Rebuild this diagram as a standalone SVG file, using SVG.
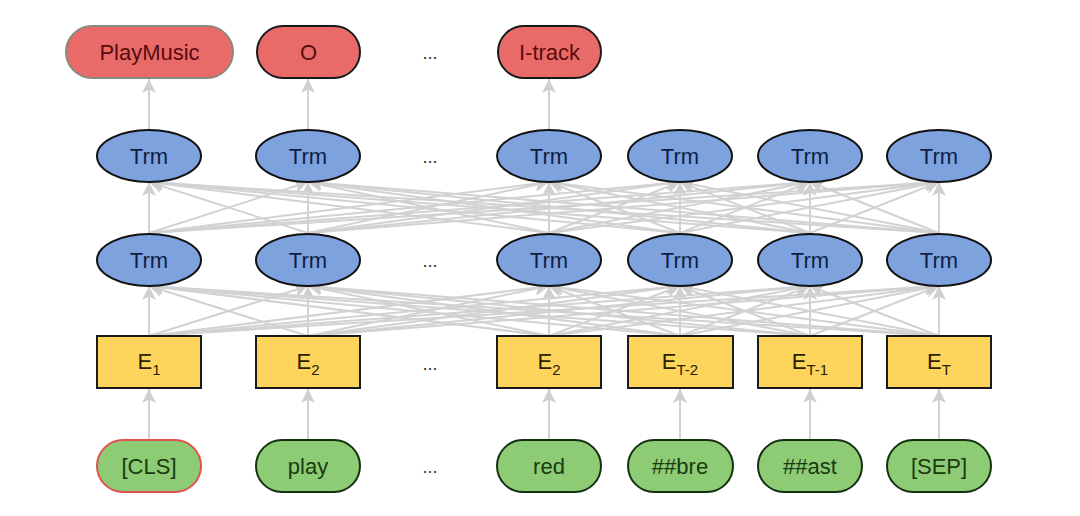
<svg xmlns="http://www.w3.org/2000/svg" width="1080" height="516" viewBox="0 0 1080 516">
<defs>
<marker id="ah" markerUnits="userSpaceOnUse" markerWidth="16" markerHeight="14" refX="14" refY="7" orient="auto">
<path d="M0,0 L14,7 L0,14 L3.5,7 z" fill="#cfcfcf"/>
</marker>
<style>
.c line{stroke:#d2d2d2;stroke-width:2;marker-end:url(#ah);fill:none}
text{font-family:"Liberation Sans",Arial,sans-serif;font-size:22px;text-anchor:middle}
.out{fill:#e86b6a;stroke:#1a1a1a;stroke-width:2}
.outt{fill:#5a0b0b}
.trm{fill:#7ea2de;stroke:#111;stroke-width:2}
.trmt{fill:#0d1f45}
.emb{fill:#fdd45c;stroke:#1a1a1a;stroke-width:2}
.embt{fill:#2b2100}
.tok{fill:#8dcb74;stroke:#13300f;stroke-width:2}
.tokt{fill:#1a3a10}
.dots{fill:#333;font-size:18px}
</style>
</defs>
<rect width="1080" height="516" fill="#fff"/>
<g class="c" id="connectors">
<line x1="149" y1="440" x2="149" y2="389"/>
<line x1="308" y1="440" x2="308" y2="389"/>
<line x1="549" y1="440" x2="549" y2="389"/>
<line x1="680" y1="440" x2="680" y2="389"/>
<line x1="810" y1="440" x2="810" y2="389"/>
<line x1="939" y1="440" x2="939" y2="389"/>
<line x1="149" y1="336" x2="149" y2="286"/><line x1="149" y1="336" x2="308" y2="286"/><line x1="149" y1="336" x2="549" y2="286"/><line x1="149" y1="336" x2="680" y2="286"/><line x1="149" y1="336" x2="810" y2="286"/><line x1="149" y1="336" x2="939" y2="286"/>
<line x1="308" y1="336" x2="149" y2="286"/><line x1="308" y1="336" x2="308" y2="286"/><line x1="308" y1="336" x2="549" y2="286"/><line x1="308" y1="336" x2="680" y2="286"/><line x1="308" y1="336" x2="810" y2="286"/><line x1="308" y1="336" x2="939" y2="286"/>
<line x1="549" y1="336" x2="149" y2="286"/><line x1="549" y1="336" x2="308" y2="286"/><line x1="549" y1="336" x2="549" y2="286"/><line x1="549" y1="336" x2="680" y2="286"/><line x1="549" y1="336" x2="810" y2="286"/><line x1="549" y1="336" x2="939" y2="286"/>
<line x1="680" y1="336" x2="149" y2="286"/><line x1="680" y1="336" x2="308" y2="286"/><line x1="680" y1="336" x2="549" y2="286"/><line x1="680" y1="336" x2="680" y2="286"/><line x1="680" y1="336" x2="810" y2="286"/><line x1="680" y1="336" x2="939" y2="286"/>
<line x1="810" y1="336" x2="149" y2="286"/><line x1="810" y1="336" x2="308" y2="286"/><line x1="810" y1="336" x2="549" y2="286"/><line x1="810" y1="336" x2="680" y2="286"/><line x1="810" y1="336" x2="810" y2="286"/><line x1="810" y1="336" x2="939" y2="286"/>
<line x1="939" y1="336" x2="149" y2="286"/><line x1="939" y1="336" x2="308" y2="286"/><line x1="939" y1="336" x2="549" y2="286"/><line x1="939" y1="336" x2="680" y2="286"/><line x1="939" y1="336" x2="810" y2="286"/><line x1="939" y1="336" x2="939" y2="286"/>
<line x1="149" y1="233" x2="149" y2="182"/><line x1="149" y1="233" x2="308" y2="182"/><line x1="149" y1="233" x2="549" y2="182"/><line x1="149" y1="233" x2="680" y2="182"/><line x1="149" y1="233" x2="810" y2="182"/><line x1="149" y1="233" x2="939" y2="182"/>
<line x1="308" y1="233" x2="149" y2="182"/><line x1="308" y1="233" x2="308" y2="182"/><line x1="308" y1="233" x2="549" y2="182"/><line x1="308" y1="233" x2="680" y2="182"/><line x1="308" y1="233" x2="810" y2="182"/><line x1="308" y1="233" x2="939" y2="182"/>
<line x1="549" y1="233" x2="149" y2="182"/><line x1="549" y1="233" x2="308" y2="182"/><line x1="549" y1="233" x2="549" y2="182"/><line x1="549" y1="233" x2="680" y2="182"/><line x1="549" y1="233" x2="810" y2="182"/><line x1="549" y1="233" x2="939" y2="182"/>
<line x1="680" y1="233" x2="149" y2="182"/><line x1="680" y1="233" x2="308" y2="182"/><line x1="680" y1="233" x2="549" y2="182"/><line x1="680" y1="233" x2="680" y2="182"/><line x1="680" y1="233" x2="810" y2="182"/><line x1="680" y1="233" x2="939" y2="182"/>
<line x1="810" y1="233" x2="149" y2="182"/><line x1="810" y1="233" x2="308" y2="182"/><line x1="810" y1="233" x2="549" y2="182"/><line x1="810" y1="233" x2="680" y2="182"/><line x1="810" y1="233" x2="810" y2="182"/><line x1="810" y1="233" x2="939" y2="182"/>
<line x1="939" y1="233" x2="149" y2="182"/><line x1="939" y1="233" x2="308" y2="182"/><line x1="939" y1="233" x2="549" y2="182"/><line x1="939" y1="233" x2="680" y2="182"/><line x1="939" y1="233" x2="810" y2="182"/><line x1="939" y1="233" x2="939" y2="182"/>
<line x1="149" y1="130" x2="149" y2="79"/>
<line x1="308" y1="130" x2="308" y2="79"/>
<line x1="549" y1="130" x2="549" y2="79"/>
</g>
<g id="out-playmusic"><rect class="out" x="66" y="26" width="167" height="52" rx="26" style="stroke:#8a8a78"/><text class="outt" x="149.5" y="60">PlayMusic</text></g>
<g id="out-o"><rect class="out" x="257" y="26" width="103" height="52" rx="26"/><text class="outt" x="308.5" y="60">O</text></g>
<g id="out-itrack"><rect class="out" x="498" y="26" width="103" height="52" rx="26"/><text class="outt" x="549.5" y="60">I-track</text></g>
<g id="trm2-1"><ellipse class="trm" cx="149" cy="156" rx="52" ry="26"/><text class="trmt" x="149" y="164">Trm</text></g>
<g id="trm2-2"><ellipse class="trm" cx="308" cy="156" rx="52" ry="26"/><text class="trmt" x="308" y="164">Trm</text></g>
<g id="trm2-3"><ellipse class="trm" cx="549" cy="156" rx="52" ry="26"/><text class="trmt" x="549" y="164">Trm</text></g>
<g id="trm2-4"><ellipse class="trm" cx="680" cy="156" rx="52" ry="26"/><text class="trmt" x="680" y="164">Trm</text></g>
<g id="trm2-5"><ellipse class="trm" cx="810" cy="156" rx="52" ry="26"/><text class="trmt" x="810" y="164">Trm</text></g>
<g id="trm2-6"><ellipse class="trm" cx="939" cy="156" rx="52" ry="26"/><text class="trmt" x="939" y="164">Trm</text></g>
<g id="trm1-1"><ellipse class="trm" cx="149" cy="260" rx="52" ry="26"/><text class="trmt" x="149" y="268">Trm</text></g>
<g id="trm1-2"><ellipse class="trm" cx="308" cy="260" rx="52" ry="26"/><text class="trmt" x="308" y="268">Trm</text></g>
<g id="trm1-3"><ellipse class="trm" cx="549" cy="260" rx="52" ry="26"/><text class="trmt" x="549" y="268">Trm</text></g>
<g id="trm1-4"><ellipse class="trm" cx="680" cy="260" rx="52" ry="26"/><text class="trmt" x="680" y="268">Trm</text></g>
<g id="trm1-5"><ellipse class="trm" cx="810" cy="260" rx="52" ry="26"/><text class="trmt" x="810" y="268">Trm</text></g>
<g id="trm1-6"><ellipse class="trm" cx="939" cy="260" rx="52" ry="26"/><text class="trmt" x="939" y="268">Trm</text></g>
<g id="emb-1"><rect class="emb" x="97" y="336" width="104" height="52"/><text class="embt" x="149" y="369">E<tspan font-size="15" dy="6">1</tspan></text></g>
<g id="emb-2"><rect class="emb" x="256" y="336" width="104" height="52"/><text class="embt" x="308" y="369">E<tspan font-size="15" dy="6">2</tspan></text></g>
<g id="emb-3"><rect class="emb" x="497" y="336" width="104" height="52"/><text class="embt" x="549" y="369">E<tspan font-size="15" dy="6">2</tspan></text></g>
<g id="emb-4"><rect class="emb" x="628" y="336" width="105" height="52"/><text class="embt" x="680" y="369">E<tspan font-size="15" dy="6">T-2</tspan></text></g>
<g id="emb-5"><rect class="emb" x="758" y="336" width="104" height="52"/><text class="embt" x="810" y="369">E<tspan font-size="15" dy="6">T-1</tspan></text></g>
<g id="emb-6"><rect class="emb" x="887" y="336" width="104" height="52"/><text class="embt" x="939" y="369">E<tspan font-size="15" dy="6">T</tspan></text></g>
<g id="tok-cls"><rect class="tok" x="97" y="440" width="104" height="52" rx="26" style="stroke:#e0524f"/><text class="tokt" x="149" y="474">[CLS]</text></g>
<g id="tok-play"><rect class="tok" x="256" y="440" width="104" height="52" rx="26"/><text class="tokt" x="308" y="474">play</text></g>
<g id="tok-red"><rect class="tok" x="497" y="440" width="104" height="52" rx="26"/><text class="tokt" x="549" y="474">red</text></g>
<g id="tok-bre"><rect class="tok" x="628" y="440" width="105" height="52" rx="26"/><text class="tokt" x="680" y="474">##bre</text></g>
<g id="tok-ast"><rect class="tok" x="758" y="440" width="104" height="52" rx="26"/><text class="tokt" x="810" y="474">##ast</text></g>
<g id="tok-sep"><rect class="tok" x="887" y="440" width="104" height="52" rx="26"/><text class="tokt" x="939" y="474">[SEP]</text></g>
<g id="dots">
<text class="dots" x="430" y="59">...</text>
<text class="dots" x="430" y="163">...</text>
<text class="dots" x="430" y="267">...</text>
<text class="dots" x="430" y="370">...</text>
<text class="dots" x="430" y="473">...</text>
</g>
</svg>
